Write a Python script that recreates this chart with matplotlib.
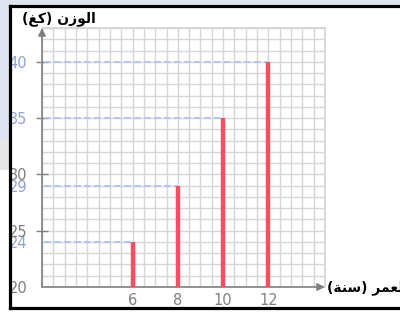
import numpy as np
import matplotlib.pyplot as plt
from matplotlib.patches import Rectangle
from matplotlib.lines import Line2D

# Datos
edades = [6, 8, 10, 12]
pesos = [24, 29, 35, 40]
yticks_gris = [20, 25, 30]
xmin, xmax = 2, 14.5
ymin, ymax = 20, 43

# Texto árabe ya en formas de presentación y en orden visual
etiqueta_y = "(\uFECE\uFEDB) \uFEE5\uFEAF\uFEEE\uFEDF\uFE8D"        # الوزن (كغ)
etiqueta_x = "(\uFE94\uFEE8\uFEB3) \uFEAE\uFEE4\uFECC\uFEDF\uFE8D"  # العمر (سنة)

gris = '#7f7f7f'
azul_txt = '#8ea3d6'
azul_linea = '#a9c1f2'
rojo = '#f64f62'

fig = plt.figure(figsize=(4, 3.12), dpi=100, facecolor='white')

# Fondo y marco de la captura (sin borde derecho)
W, H = 400, 312
def px(x, y, w, h, **kw):
    fig.patches.append(Rectangle((x / W, 1 - (y + h) / H), w / W, h / H,
                                 transform=fig.transFigure, figure=fig, **kw))
px(0, 0, 400, 4.5, color='#dde4f0', lw=0)
px(0, 0, 8.5, 140, color='#dde4f0', lw=0)
px(0, 140, 8.5, 30, color='#e6e6e6', lw=0)
for xs, ys in [([9.5, 400], [5.5, 5.5]), ([9.5, 9.5], [5.5, 308]), ([9.5, 400], [308, 308])]:
    fig.lines.append(Line2D([x / W for x in xs], [1 - y / H for y in ys],
                            transform=fig.transFigure, figure=fig, color='black', lw=2.3))

ax = fig.add_axes([42 / W, 1 - 287 / H, 283 / W, 259 / H])
ax.set_xlim(xmin, xmax)
ax.set_ylim(ymin, ymax)
ax.patch.set_alpha(0)

# Cuadrícula
ax.set_xticks(np.arange(xmin, xmax + 0.01, 0.5), minor=True)
ax.set_yticks(np.arange(ymin, ymax + 0.01, 1), minor=True)
ax.grid(which='both', color='#d6d6d6', lw=1.0, zorder=0)
ax.tick_params(which='minor', length=0)

for s in ['left', 'bottom']:
    ax.spines[s].set_visible(False)
for s in ['top', 'right']:
    ax.spines[s].set_color('#d2d2d2')
    ax.spines[s].set_linewidth(1.2)

# Ejes con flechas
ax.annotate('', xy=(xmin, ymax), xytext=(xmin, ymin),
            arrowprops=dict(arrowstyle='-|>', color=gris, lw=1.2, mutation_scale=11,
                            shrinkA=0, shrinkB=0), annotation_clip=False)
ax.annotate('', xy=(xmax, ymin), xytext=(xmin, ymin),
            arrowprops=dict(arrowstyle='-|>', color=gris, lw=1.2, mutation_scale=11,
                            shrinkA=0, shrinkB=0), annotation_clip=False)

# Líneas discontinuas y barras
for e, p in zip(edades, pesos):
    ax.plot([xmin + 0.1, e], [p, p], color=azul_linea, lw=1.2, ls=(0, (4, 2)), zorder=3)
ax.vlines(edades, ymin, pesos, color=rojo, lw=3.2, zorder=4)

# Marcas del eje x
ax.set_xticks(edades)
ax.set_xticklabels([str(e) for e in edades])
ax.tick_params(axis='x', length=0, pad=4, labelsize=10.5, labelcolor=gris)

# Marcas del eje y
yt = sorted(yticks_gris + pesos)
ax.set_yticks(yt)
ax.set_yticklabels([str(v) for v in yt])
ax.tick_params(axis='y', direction='inout', length=9, width=1, color=gris,
               pad=6, labelsize=10.5)
for t, v in zip(ax.yaxis.get_major_ticks(), yt):
    t.label1.set_color(azul_txt if v in pesos else gris)
    if v in (20, 24, 29):
        t.tick1line.set_visible(False)

# Títulos de los ejes
fig.text(22 / W, 1 - 19 / H, etiqueta_y, fontsize=10, fontweight='bold',
         family='DejaVu Sans', va='center', ha='left')
fig.text(327 / W, 1 - 288 / H, etiqueta_x, fontsize=10, fontweight='bold',
         family='DejaVu Sans', va='center', ha='left')

fig.savefig('out.png', dpi=100)
